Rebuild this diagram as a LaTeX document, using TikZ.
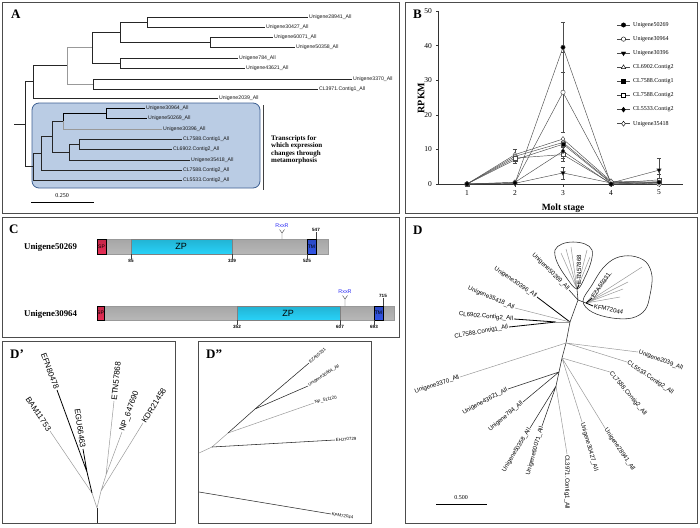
\documentclass[tikz,border=0pt]{standalone}
\usepackage{fontspec}
\setmainfont{Liberation Serif}
\setsansfont{Liberation Sans}
\usetikzlibrary{plotmarks}

\definecolor{boxfill}{RGB}{186,204,228}
\definecolor{boxline}{RGB}{62,96,146}
\definecolor{zpcyan}{RGB}{40,210,248}
\definecolor{spred}{RGB}{230,45,85}
\definecolor{tmblue}{RGB}{50,85,230}
\definecolor{motif}{RGB}{45,45,245}

\newcommand{\fsz}[1]{\fontsize{#1}{#1}\selectfont}
\newcommand{\errbar}[3]{\draw[errb] (#1,#2) -- (#1,#3)
  (#1,#2) ++(-2.2pt,0) -- ++(4.4pt,0) (#1,#3) ++(-2.2pt,0) -- ++(4.4pt,0);}

\tikzset{
  panel/.style={draw=black!70, line width=0.8pt},
  plabel/.style={font=\fsz{13}\bfseries, inner sep=0pt, anchor=north west},
  leafA/.style={font=\sffamily\fsz{5.2}, anchor=west, inner sep=0.8pt, text=black!90},
  leafD/.style={font=\sffamily\fsz{6.1}, inner sep=0.8pt},
  leafP/.style={font=\sffamily\fsz{8}, inner sep=0.8pt},
  leafQ/.style={font=\sffamily\fsz{4.4}, inner sep=0.6pt},
  br/.style={draw=black!85, line width=0.55pt},
  brk/.style={draw=black, line width=0.8pt},
  brg/.style={draw=black!40, line width=0.5pt},
  boxst/.style={fill=boxfill, draw=boxline, line width=0.8pt, rounded corners=7pt},
  axis/.style={draw=black!80, line width=0.5pt},
  ser/.style={draw=black!70, line width=0.45pt},
  errb/.style={draw=black!70, line width=0.4pt},
  ticklab/.style={font=\fsz{7.5}},
  legtext/.style={font=\fsz{6}, anchor=west, inner sep=1pt},
  mk1/.style={mark=*, mark size=2.2pt, mark options={solid, fill=black}},
  mk2/.style={mark=*, mark size=2.2pt, mark options={solid, fill=white}},
  mk3/.style={mark=triangle*, mark size=2.5pt, mark options={solid, rotate=180, fill=black}},
  mk4/.style={mark=triangle*, mark size=2.5pt, mark options={solid, fill=white}},
  mk5/.style={mark=square*, mark size=1.9pt, mark options={solid, fill=black}},
  mk6/.style={mark=square*, mark size=1.9pt, mark options={solid, fill=white}},
  mk7/.style={mark=diamond*, mark size=2.5pt, mark options={solid, fill=black}},
  mk8/.style={mark=diamond*, mark size=2.5pt, mark options={solid, fill=white}},
  greybar/.style={draw=black!40, line width=0.3pt, top color=black!35, middle color=white, bottom color=black!28},
  zpbar/.style={top color=zpcyan!85!black, middle color=zpcyan!20, bottom color=zpcyan},
  spbar/.style={top color=spred!85!black, middle color=spred!35, bottom color=spred},
  tmbar/.style={top color=tmblue!85!black, middle color=tmblue!35, bottom color=tmblue},
  dom/.style={font=\sffamily\fsz{5}, inner sep=0pt},
  posnum/.style={font=\sffamily\bfseries\fsz{4.6}, inner sep=0.5pt},
  tk/.style={draw=black!75, line width=0.4pt},
  gname/.style={font=\bfseries\fsz{8.8}, anchor=west, inner sep=0pt},
}

\begin{document}
\begin{tikzpicture}[x=1pt, y=-1pt]
\useasboundingbox (0,0) rectangle (700,527);

% ==== PANEL A : TREE ====
\draw[panel] (2,2) rectangle (399,213);
\node[plabel] (labA) at (11,10) {A};
\draw[boxst] (32,103) rectangle (260,188);
\draw[line width=1pt, black!75] (263,105) -- (263,190);
\node[font=\bfseries\fontsize{7}{7.5}\selectfont, align=left, anchor=west, inner sep=0pt] (noteA) at (271,150)
  {Transcripts for\\which expression\\changes through\\metamorphosis};

\node[leafA] (u28941a) at (308,17) {Unigene28941\_All};
\node[leafA] (u30427a) at (265,27) {Unigene30427\_All};
\node[leafA] (u60071a) at (273,37) {Unigene60071\_All};
\node[leafA] (u50358a) at (295,47) {Unigene50358\_All};
\node[leafA] (u784a) at (238,58) {Unigene784\_All};
\node[leafA] (u43621a) at (245,68) {Unigene43621\_All};
\node[leafA] (u3370a) at (352,79) {Unigene3370\_All};
\node[leafA] (c3971a) at (318,89) {CL3971.Contig1\_All};
\node[leafA] (u2039a) at (218,98) {Unigene2039\_All};
\node[leafA] (u30964a) at (145,108) {Unigene30964\_All};
\node[leafA] (u50269a) at (147,118) {Unigene50269\_All};
\node[leafA] (u30396a) at (162,129) {Unigene30396\_All};
\node[leafA] (c7588a) at (182,139) {CL7588.Contig1\_All};
\node[leafA] (c6902a) at (172,149) {CL6902.Contig2\_All};
\node[leafA] (u35418a) at (190,160) {Unigene35418\_All};
\node[leafA] (c7588b) at (182,170) {CL7588.Contig2\_All};
\node[leafA] (c5533a) at (182,180) {CL5533.Contig2\_All};

\coordinate (a1) at (147,22);
\coordinate (a2) at (210,42);
\coordinate (a3) at (120,32);
\coordinate (a4) at (120,63);
\coordinate (a5) at (92,47);
\coordinate (a6) at (93,84);
\coordinate (a7) at (67,65);
\coordinate (a8) at (33,81);
\coordinate (rootA) at (25,124);
\coordinate (stubA) at (14,124);
\coordinate (b1) at (106,113);
\coordinate (b2) at (63,121);
\coordinate (b3) at (79,144);
\coordinate (b4) at (69,152);
\coordinate (b5) at (52,136);
\coordinate (b6) at (41,153);
\coordinate (b7) at (33,166);

\draw[br] (a1) |- (u28941a.west) (a1) |- (u30427a.west);
\draw[br] (a2) |- (u60071a.west) (a2) |- (u50358a.west);
\draw[br] (a3) |- (a1) (a3) |- (a2);
\draw[br] (a4) |- (u784a.west) (a4) |- (u43621a.west);
\draw[br] (a5) |- (a3) (a5) |- (a4);
\draw[br] (a6) |- (u3370a.west) (a6) |- (c3971a.west);
\draw[brg] (a7) |- (a5) (a7) |- (a6);
\draw[br] (a8) |- (a7) (a8) |- (u2039a.west);
\draw[br] (stubA) -- (rootA) (rootA) |- (a8) (rootA) |- (b7);
\draw[brk] (b1) |- (u30964a.west) (b1) |- (u50269a.west);
\draw[brk] (b2) |- (b1);
\draw[brg] (b2) |- (u30396a.west);
\draw[br] (b3) |- (c7588a.west) (b3) |- (c6902a.west);
\draw[br] (b4) |- (b3) (b4) |- (u35418a.west);
\draw[br] (b5) |- (b2) (b5) |- (b4);
\draw[br] (b6) |- (b5) (b6) |- (c7588b.west);
\draw[br] (b7) |- (b6) (b7) |- (c5533a.west);

% scale bar
\coordinate (sbA1) at (31,202);
\coordinate (sbA2) at (94,202);
\draw[line width=0.8pt] (sbA1) -- (sbA2);
\node[font=\fsz{6}] (sbAt) at (62,196) {0.250};

% ==== PANEL B : RPKM ====
\draw[panel] (405,2) rectangle (697,213);
\node[plabel] (labB) at (413,10) {B};
\node[font=\bfseries\fsz{10}, rotate=90] (ylab) at (421,98) {RPKM};
\node[font=\bfseries\fsz{9.5}] (xlab) at (563,208) {Molt stage};
\begin{scope}[shift={(419pt,-184pt)}, x=48pt, y=3.46pt]
  \draw[axis] (0.396,50) -- (0.396,0) -- (5.5,0);
  \foreach \v in {0,10,...,50}
    \draw[axis] (0.396,\v) -- ++(-2.5pt,0) node[ticklab, left] (yt\v) {\v};
  \foreach \s in {1,...,5}
    \draw[axis] (\s,0) -- ++(0,-2.5pt) node[ticklab, below] (xt\s) {\s};
  % error bars
  \errbar{3}{32.3}{46.7}
  \errbar{3}{15}{38}
  \errbar{3}{1.4}{5}
  \errbar{3}{6.5}{12.5}
  \errbar{3}{7.5}{10.5}
  \errbar{2}{7}{10}
  \errbar{2}{6}{8}
  \errbar{5}{0.5}{7.5}
  \errbar{5}{0}{2.7}
  % series
  \draw[ser, mk8] plot coordinates {(1,0) (2,8.5) (3,13) (4,0.8) (5,0.5)};
  \draw[ser, mk4] plot coordinates {(1,0) (2,8) (3,12) (4,0.5) (5,0.6)};
  \draw[ser, mk5] plot coordinates {(1,0) (2,7) (3,11.5) (4,0.3) (5,0.4)};
  \draw[ser, mk6] plot coordinates {(1,0) (2,7.5) (3,8.5) (4,0.2) (5,1.2)};
  \draw[ser, mk7] plot coordinates {(1,0) (2,0.5) (3,9.5) (4,0) (5,0.3)};
  \draw[ser, mk3] plot coordinates {(1,0) (2,0.2) (3,3.2) (4,0.3) (5,4)};
  \draw[ser, mk2] plot coordinates {(1,0) (2,0.4) (3,26.5) (4,0.6) (5,0)};
  \draw[ser, mk1] plot coordinates {(1,0) (2,0.3) (3,39.5) (4,0) (5,0.5)};
\end{scope}
% legend
\foreach \i/\nm [count=\k from 0] in {1/Unigene50269, 2/Unigene30964, 3/Unigene30396,
    4/CL6902.Contig2, 5/CL7588.Contig1, 6/CL7588.Contig2, 7/CL5533.Contig2, 8/Unigene35418} {
  \pgfmathsetmacro\ly{25+14.1*\k}
  \draw[ser] (617,\ly) -- (630,\ly);
  \draw[mk\i] plot coordinates {(623.5,\ly)};
  \node[legtext] (leg\i) at (632,\ly) {\nm};
}

% ==== PANEL C : DOMAINS ====
\draw[panel] (2,217) rectangle (399,337);
\node[plabel] (labC) at (9,225) {C};
\node[gname] (g50269) at (24,247) {Unigene50269};
\node[gname] (g30964) at (24,314) {Unigene30964};
% first protein
\draw[greybar] (97,239) rectangle (328,254);
\draw[zpbar, draw=black!50, line width=0.3pt] (131,239) rectangle (232,254);
\draw[spbar] (97,239) rectangle (106,254);
\draw[tmbar] (307,239) rectangle (316,254);
\node[dom] (sp1) at (101.5,246.5) {SP};
\node[dom] (tm1) at (311.5,246.5) {TM};
\node[font=\sffamily\fsz{9}, inner sep=0pt] (zp1) at (181,246.5) {ZP};
\node[posnum, anchor=north] (p85) at (131,259) {85};
\node[posnum, anchor=north] (p339) at (232,259) {339};
\node[posnum, anchor=north] (p525) at (307,259) {525};
\node[posnum, anchor=south] (p547) at (316,232) {547};
\draw[tk] (131,254) -- (p85.north) (232,254) -- (p339.north) (307,254) -- (p525.north) (316,239) -- (p547.south);
\node[font=\sffamily\fsz{5.4}, text=motif, anchor=south, inner sep=0pt] (rx1) at (282,228) {RxxR};
\draw[tk] (279.5,229.5) -- (282,233) -- (284.5,229.5) (282,233) -- (282,239);
% second protein
\draw[greybar] (97,306) rectangle (394,320);
\draw[zpbar, draw=black!50, line width=0.3pt] (237,306) rectangle (340,320);
\draw[spbar] (97,306) rectangle (104,320);
\draw[tmbar] (374,306) rectangle (383,320);
\node[dom] (sp2) at (100.5,313) {SP};
\node[dom] (tm2) at (378.5,313) {TM};
\node[font=\sffamily\fsz{9}, inner sep=0pt] (zp2) at (288,313) {ZP};
\node[posnum, anchor=north] (p352) at (237,325) {352};
\node[posnum, anchor=north] (p607) at (340,325) {607};
\node[posnum, anchor=north] (p693) at (374,325) {693};
\node[posnum, anchor=south] (p715) at (383,298) {715};
\draw[tk] (237,320) -- (p352.north) (340,320) -- (p607.north) (374,320) -- (p693.north) (383,306) -- (p715.south);
\node[font=\sffamily\fsz{5.4}, text=motif, anchor=south, inner sep=0pt] (rx2) at (345,294) {RxxR};
\draw[tk] (342.5,295.5) -- (345,299) -- (347.5,295.5) (345,299) -- (345,306);

% ==== PANEL D' ====
\draw[panel] (2,341) rectangle (175,523);
\node[plabel] (labDp) at (10,350) {D'};
\coordinate (pr0) at (97,523);
\coordinate (pr) at (97,508);
\coordinate (pl) at (92,493);
\coordinate (pq) at (101,491);
\coordinate (pl2) at (87,472);
\coordinate (pq2) at (106,475);
\node[leafP, anchor=east, rotate=-56] (bam) at (50,431) {BAM11753};
\node[leafP, anchor=east, rotate=-70] (efn) at (57,390) {EFN80478};
\node[leafP, anchor=east, rotate=-82] (egu) at (83,449) {EGU66463};
\node[leafP, anchor=west, rotate=84] (etnP) at (114,401) {ETN57868};
\node[leafP, anchor=west, rotate=70] (npP) at (122,432) {NP\_647690};
\node[leafP, anchor=west, rotate=58] (kdr) at (143,423) {KDR21458};
\draw[br] (pr0) -- (pr);
\draw[brg] (pr) -- (pl) (pr) -- (pq) (pl) -- (bam.east);
\draw[brk] (pl) -- (pl2) (pl2) -- (efn.east) (pl2) -- (egu.east);
\draw[brg] (pq) -- (pq2) (pq2) -- (etnP.west) (pq2) -- (npP.west) (pq) -- (kdr.west);

% ==== PANEL D'' ====
\draw[panel] (198,341) rectangle (371,523);
\node[plabel] (labDpp) at (206,350) {D''};
\coordinate (qr0) at (199,453);
\coordinate (qm1) at (212,447);
\coordinate (qm2) at (228,433);
\coordinate (qm3) at (255,409);
\coordinate (qk0) at (199,492);
\node[leafQ, anchor=west, rotate=41] (ezaQ) at (309,363) {EZA55331};
\node[leafQ, anchor=west, rotate=33] (u30964Q) at (308,386) {Unigene30964\_All};
\node[leafQ, anchor=west, rotate=14] (np5Q) at (314,403) {NP\_511120};
\node[leafQ, anchor=west, rotate=3] (ehjQ) at (335,440) {EHJ70729};
\node[leafQ, anchor=west, rotate=-9] (kpmQ) at (331,514) {KPM72044};
\draw[brg] (qr0) -- (qm1) (qm1) -- (qm2) (qm2) -- (np5Q.west);
\draw[br] (qm1) -- (ehjQ.west) (qm2) -- (qm3) (qm3) -- (ezaQ.west) (qm3) -- (u30964Q.west);
\draw[br] (qk0) -- (kpmQ.west);

% ==== PANEL D : UNROOTED TREE ====
\draw[panel] (405,217) rectangle (697,523);
\node[plabel] (labD) at (413,226) {D};
\coordinate (t1) at (578,300);
\coordinate (t2) at (570,322);
\coordinate (t2b) at (556,322);
\coordinate (t3) at (566,343);
\coordinate (t4) at (562,358);
\coordinate (t5) at (559,372);
\coordinate (t6) at (556,386);
\coordinate (c1) at (577,289);
\coordinate (c2) at (586,303);
% clusters
\draw[br] plot[smooth cycle, tension=0.6] coordinates {(577,289) (566,277) (557,262) (555,250)
  (562,244) (573,242) (585,244) (592,250) (591,262) (585,277)};
\draw[br] plot[smooth cycle, tension=0.6] coordinates {(583,301) (592,285) (603,268) (616,258)
  (632,256) (646,262) (652,276) (650,295) (645,310) (632,318) (612,318) (592,312)};
\draw[brg] (c1) -- (561,253) (c1) -- (566,249) (c1) -- (571,247) (c1) -- (587,250) (c1) -- (590,257);
\draw[brg] (c2) -- (642,267) (c2) -- (628,282) (c2) -- (623,289) (c2) -- (620,297) (c2) -- (612,273);

\node[leafD, anchor=east, rotate=-45] (u50269d) at (569,290) {Unigene50269\_All};
\node[leafD, anchor=west, rotate=90] (etnD) at (579,285) {ETN57868};
\node[leafD, anchor=west, rotate=55] (ezaD) at (592,298) {EZA55331};
\node[leafD, anchor=west, rotate=-12] (kfmD) at (593,306) {KFM72044};
\node[leafD, anchor=east, rotate=-34] (u30396d) at (537,297) {Unigene30396\_All};
\node[leafD, anchor=east, rotate=-23] (u35418d) at (515,308) {Unigene35418\_All};
\node[leafD, anchor=east, rotate=-5] (c6902d) at (514,319) {CL6902.Contig2\_All};
\node[leafD, anchor=east, rotate=10] (c7588d) at (509,327) {CL7588.Contig1\_All};
\node[leafD, anchor=west, rotate=-20] (u2039d) at (638,352) {Unigene2039\_All};
\node[leafD, anchor=west, rotate=-34] (c5533d) at (627,362) {CL5533.Contig2\_All};
\node[leafD, anchor=west, rotate=-50] (c7588e) at (610,372) {CL7588.Contig2\_All};
\node[leafD, anchor=east, rotate=18] (u3370d) at (460,377) {Unigene3370\_All};
\node[leafD, anchor=east, rotate=28] (u43621d) at (508,389) {Unigene43621\_All};
\node[leafD, anchor=east, rotate=40] (u784d) at (523,402) {Unigene784\_All};
\node[leafD, anchor=east, rotate=59] (u50358d) at (530,428) {Unigene50358\_All};
\node[leafD, anchor=east, rotate=74] (u60071d) at (542,426) {Unigene60071\_All};
\node[leafD, anchor=west, rotate=-90] (c3971d) at (567,454) {CL3971.Contig1\_All};
\node[leafD, anchor=west, rotate=-74] (u30427d) at (582,422) {Unigene30427\_All};
\node[leafD, anchor=west, rotate=-56] (u28941d) at (605,428) {Unigene28941\_All};

\draw[brk] (c1) -- (etnD.west) (c2) -- (ezaD.west) (c2) -- (kfmD.west);
\draw[br] (t1) -- (c1) (t1) -- (c2) (t1) -- (u50269d.east) (t1) -- (t2);
\draw[brk] (t2) -- (u30396d.east);
\draw[brg] (t2) -- (u35418d.east);
\draw[brk] (t2b) -- (c6902d.east) (t2b) -- (c7588d.east);
\draw[brg] (t2) -- (t2b);
\draw[br] (t2) -- (t3) (t3) -- (t4) (t4) -- (t5) (t5) -- (t6);
\draw[brg] (t3) -- (u2039d.west) (t3) -- (c5533d.west) (t3) -- (u3370d.east) (t4) -- (c7588e.west);
\draw[br] (t5) -- (u43621d.east) (t5) -- (u784d.east) (t6) -- (u50358d.east) (t6) -- (u60071d.east);
\draw[brg] (t6) -- (c3971d.west) (t4) -- (u30427d.west) (t4) -- (u28941d.west);
% scale bar
\coordinate (sbD1) at (436,504);
\coordinate (sbD2) at (487,504);
\draw[line width=0.8pt] (sbD1) -- (sbD2);
\node[font=\fsz{6}] (sbDt) at (461,498) {0.500};
\end{tikzpicture}
\end{document}
